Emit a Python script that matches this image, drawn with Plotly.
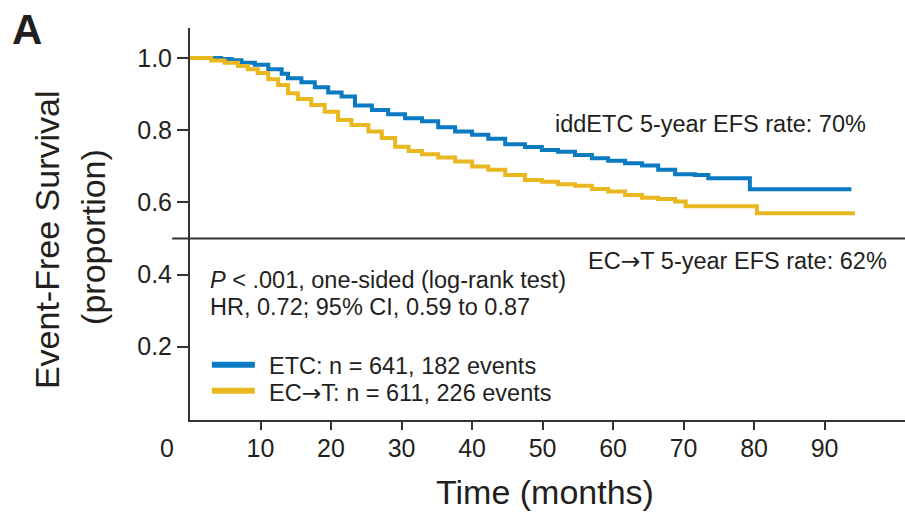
import plotly.graph_objects as go

# Kaplan-Meier event-free survival estimates (months, proportion event-free)
etc_months = [0, 4.4, 5.9, 7.3, 9.2, 11.1, 13.0, 13.9, 15.8, 17.7, 19.6, 21.5, 23.4,
              25.8, 28.1, 30.5, 32.9, 35.2, 37.6, 40.0, 42.3, 44.7, 47.5, 49.9, 52.2,
              54.6, 57.0, 59.3, 61.7, 64.1, 66.4, 68.8, 71.6, 73.5, 79.4, 93.8]
etc_surv = [1.0, 0.997, 0.994, 0.987, 0.981, 0.969, 0.956, 0.944, 0.933, 0.919, 0.904,
            0.893, 0.868, 0.856, 0.844, 0.833, 0.825, 0.808, 0.796, 0.787, 0.776, 0.761,
            0.753, 0.745, 0.740, 0.731, 0.722, 0.715, 0.708, 0.702, 0.690, 0.678, 0.676,
            0.667, 0.636, 0.636]

ect_months = [0, 3.0, 4.9, 6.8, 8.2, 9.6, 11.1, 12.5, 13.9, 15.3, 17.2, 19.1, 21.0,
              22.9, 25.3, 27.2, 29.1, 31.0, 32.9, 35.2, 37.6, 40.0, 42.3, 44.7, 47.5,
              49.9, 52.2, 54.6, 57.0, 59.3, 61.7, 64.1, 66.4, 68.8, 70.3, 80.4, 94.3]
ect_surv = [1.0, 0.993, 0.987, 0.978, 0.969, 0.958, 0.941, 0.925, 0.902, 0.886, 0.870,
            0.851, 0.828, 0.814, 0.796, 0.778, 0.754, 0.742, 0.733, 0.724, 0.713, 0.699,
            0.690, 0.676, 0.662, 0.657, 0.650, 0.646, 0.637, 0.630, 0.620, 0.613, 0.609,
            0.602, 0.589, 0.570, 0.570]

x_ticks = [10, 20, 30, 40, 50, 60, 70, 80, 90]
y_ticks = [0.2, 0.4, 0.6, 0.8, 1.0]
y_tick_text = ["0.2", "0.4", "0.6", "0.8", "1.0"]

ARROW = "<span style='font-family:DejaVu Sans'>\u2192</span>"
series_names = ["ETC: n = 641, 182 events", "EC" + ARROW + "T: n = 611, 226 events"]
series_colors = ["#0a7bc2", "#e9b820"]

rate_etc = "iddETC 5-year EFS rate: 70%"
rate_ect = "EC" + ARROW + "T 5-year EFS rate: 62%"
stats_lines = ["<i>P</i> < .001, one-sided (log-rank test)",
               "HR, 0.72; 95% CI, 0.59 to 0.87"]

TEXT = "#231f20"
AXIS = "#333333"
SANS = "Liberation Sans, Arial, Helvetica, sans-serif"

fig = go.Figure()
fig.add_trace(go.Scatter(x=etc_months, y=etc_surv, mode="lines", line_shape="hv",
                         line=dict(color=series_colors[0], width=4),
                         name=series_names[0], showlegend=False))
fig.add_trace(go.Scatter(x=ect_months, y=ect_surv, mode="lines", line_shape="hv",
                         line=dict(color=series_colors[1], width=4),
                         name=series_names[1], showlegend=False))

# reference line across the plot at 0.5
fig.add_shape(type="line", xref="paper", yref="y", x0=-0.025, x1=1, y0=0.5, y1=0.5,
              line=dict(color=AXIS, width=2))

# legend keys
legend_y = [0.150, 0.078]
for c, yv in zip(series_colors, legend_y):
    fig.add_shape(type="line", xref="x", yref="y", x0=3.1, x1=9.2, y0=yv, y1=yv,
                  line=dict(color=c, width=6))

anno_font = dict(family=SANS, size=23.5, color=TEXT)


def note(text, x, y, xanchor="left"):
    fig.add_annotation(x=x, y=y, xref="x", yref="y", text=text, xanchor=xanchor,
                       yanchor="middle", showarrow=False, font=anno_font)


note(rate_etc, 51.5, 0.817)
note(rate_ect, 99.2, 0.438, xanchor="right")
note(stats_lines[0], 2.55, 0.385)
note(stats_lines[1], 2.55, 0.310)
for name, yv in zip(series_names, [0.147, 0.072]):
    note(name, 10.9, yv)


def paper_text(text, x, y, size, angle=0, bold=False):
    fig.add_annotation(x=x, y=y, xref="paper", yref="paper",
                       text=f"<b>{text}</b>" if bold else text,
                       xanchor="center", yanchor="middle", textangle=angle,
                       showarrow=False, font=dict(family=SANS, size=size, color=TEXT))


# origin label, axis titles and panel letter
paper_text("0", -0.032, -0.071, 25)
paper_text("Time (months)", 0.4965, -0.184, 34)
paper_text("Event-Free Survival", -0.200, 0.459, 34, angle=-90)
paper_text("(proportion)", -0.1357, 0.467, 34, angle=-90)
paper_text("A", -0.228, 0.995, 42, bold=True)

fig.update_xaxes(range=[0, 101.4], tickvals=x_ticks, ticks="outside", ticklen=8,
                 tickwidth=1.5, tickcolor=AXIS, showline=True, linecolor=AXIS,
                 linewidth=2, showgrid=False, zeroline=False, ticklabelstandoff=-3,
                 tickfont=dict(family=SANS, size=25, color=TEXT))
fig.update_yaxes(range=[-0.003, 1.083], tickvals=y_ticks, ticktext=y_tick_text,
                 ticks="outside", ticklen=11, tickwidth=1.5, tickcolor=AXIS,
                 showline=True, linecolor=AXIS, linewidth=2, showgrid=False,
                 zeroline=False, tickfont=dict(family=SANS, size=25, color=TEXT))

fig.update_layout(width=905, height=515, margin=dict(l=190, r=0, t=28, b=95),
                  paper_bgcolor="white", plot_bgcolor="white")

fig.write_html("out.html")
